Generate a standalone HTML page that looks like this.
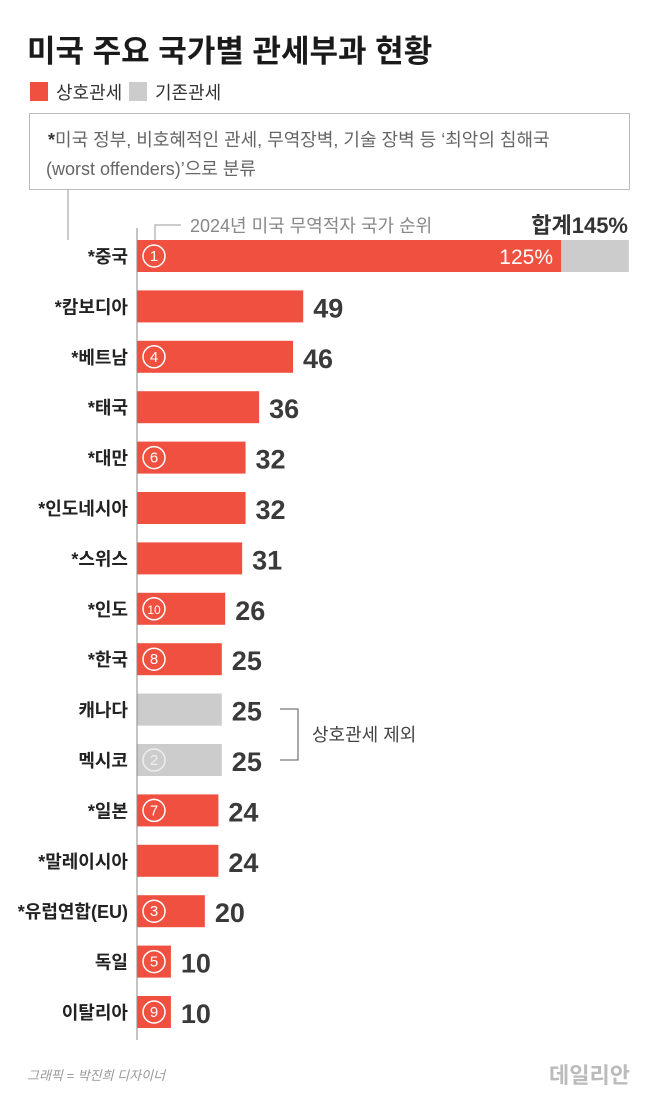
<!DOCTYPE html>
<html><head><meta charset="utf-8"><style>
body{margin:0;background:#fff;width:658px;height:1100px;overflow:hidden;font-family:"Liberation Sans","Noto Sans CJK KR",sans-serif;}
svg text{font-family:"Liberation Sans","Noto Sans CJK KR",sans-serif;}
</style></head><body>
<svg id="chart" width="658" height="1100" xmlns="http://www.w3.org/2000/svg">
<text x="27" y="62" font-size="31" font-weight="bold" fill="#1a1a1a">미국 주요 국가별 관세부과 현황</text>
<rect x="30" y="82" width="18" height="19" fill="#f05040"/>
<text x="56" y="99" font-size="18" fill="#333">상호관세</text>
<rect x="129" y="82" width="18" height="19" fill="#cccccc"/>
<text x="155" y="99" font-size="18" fill="#333">기존관세</text>
<rect x="29.5" y="113.5" width="600" height="76" fill="#fff" stroke="#bbb"/>
<text x="48" y="146" font-size="18" fill="#666"><tspan font-weight="bold" fill="#333">*</tspan>미국 정부, 비호혜적인 관세, 무역장벽, 기술 장벽 등 ‘최악의 침해국</text>
<text x="46" y="175" font-size="18" fill="#666">(worst offenders)’으로 분류</text>
<line x1="68" y1="190" x2="68" y2="240" stroke="#999"/>
<path d="M181 225 H155 V241" fill="none" stroke="#999"/>
<text x="190" y="232" font-size="18" fill="#888">2024년 미국 무역적자 국가 순위</text>
<text x="628" y="233" font-size="22" font-weight="bold" fill="#333" text-anchor="end">합계145%</text>
<g id="bars"></g>
<line x1="137" y1="228" x2="137" y2="1040" stroke="#888" stroke-width="1"/>
<path d="M280 709 H298 V760 H280" fill="none" stroke="#555"/>
<text x="312" y="741" font-size="18" fill="#444">상호관세 제외</text>
<text x="27" y="1080" font-size="13" font-style="italic" fill="#999">그래픽 = 박진희 디자이너</text>
<text x="630" y="1083" font-size="22" font-weight="bold" fill="#bbb" text-anchor="end">데일리안</text>
</svg>
<script>
const countries=["*중국","*캄보디아","*베트남","*태국","*대만","*인도네시아","*스위스","*인도","*한국","캐나다","멕시코","*일본","*말레이시아","*유럽연합(EU)","독일","이탈리아"];
const reciprocal=[125,49,46,36,32,32,31,26,25,0,0,24,24,20,10,10];
const existing=[20,0,0,0,0,0,0,0,0,25,25,0,0,0,0,0];
const labels=["125%","49","46","36","32","32","31","26","25","25","25","24","24","20","10","10"];
const ranks=["1","","4","","6","","","10","8","","2","7","","3","5","9"];
const X0=137,K=424/125,Y0=240,STEP=50.4,BH=32;
const sx=v=>X0+v*K, sy=i=>Y0+i*STEP;
const g=document.getElementById('bars'),NS="http://www.w3.org/2000/svg";
function mk(t,a){const e=document.createElementNS(NS,t);for(const k in a)e.setAttribute(k,a[k]);g.appendChild(e);return e;}
countries.forEach((c,i)=>{
  const y=sy(i);
  const lab=mk('text',{x:128,y:y+23,'font-size':18,'font-weight':'bold',fill:'#222','text-anchor':'end'});
  lab.textContent=c;
  
  
  if(reciprocal[i]>0){
    const r=mk('rect',{x:X0,y:y,width:sx(reciprocal[i])-X0,height:BH,fill:'#f05040'});
    
    
  }
  if(existing[i]>0){
    const r=mk('rect',{x:sx(reciprocal[i]),y:y,width:sx(existing[i])-X0,height:BH,fill:'#cccccc'});
    
    
  }
  const total=reciprocal[i]+existing[i];
  let v;
  if(i===0){
    v=mk('text',{x:sx(reciprocal[i])-8,y:y+24,'font-size':21,fill:'#fff','text-anchor':'end'});
  }else{
    v=mk('text',{x:sx(total)+10,y:y+27,'font-size':27,'font-weight':'bold',fill:'#3a3a3a'});
  }
  v.textContent=labels[i];
  
  
  if(ranks[i]){
    const cx=X0+17,cy=y+BH/2;
    const col=reciprocal[i]>0?'#fff':'#eee';
    const ci=mk('circle',{cx:cx,cy:cy,r:11,fill:'none',stroke:col,'stroke-width':1.5});
    
    
    const t=mk('text',{x:cx,y:cy+5,'font-size':ranks[i].length>1?12:15,fill:col,'text-anchor':'middle'});
    t.textContent=ranks[i];
    
    
  }
});
</script>
</body></html>
